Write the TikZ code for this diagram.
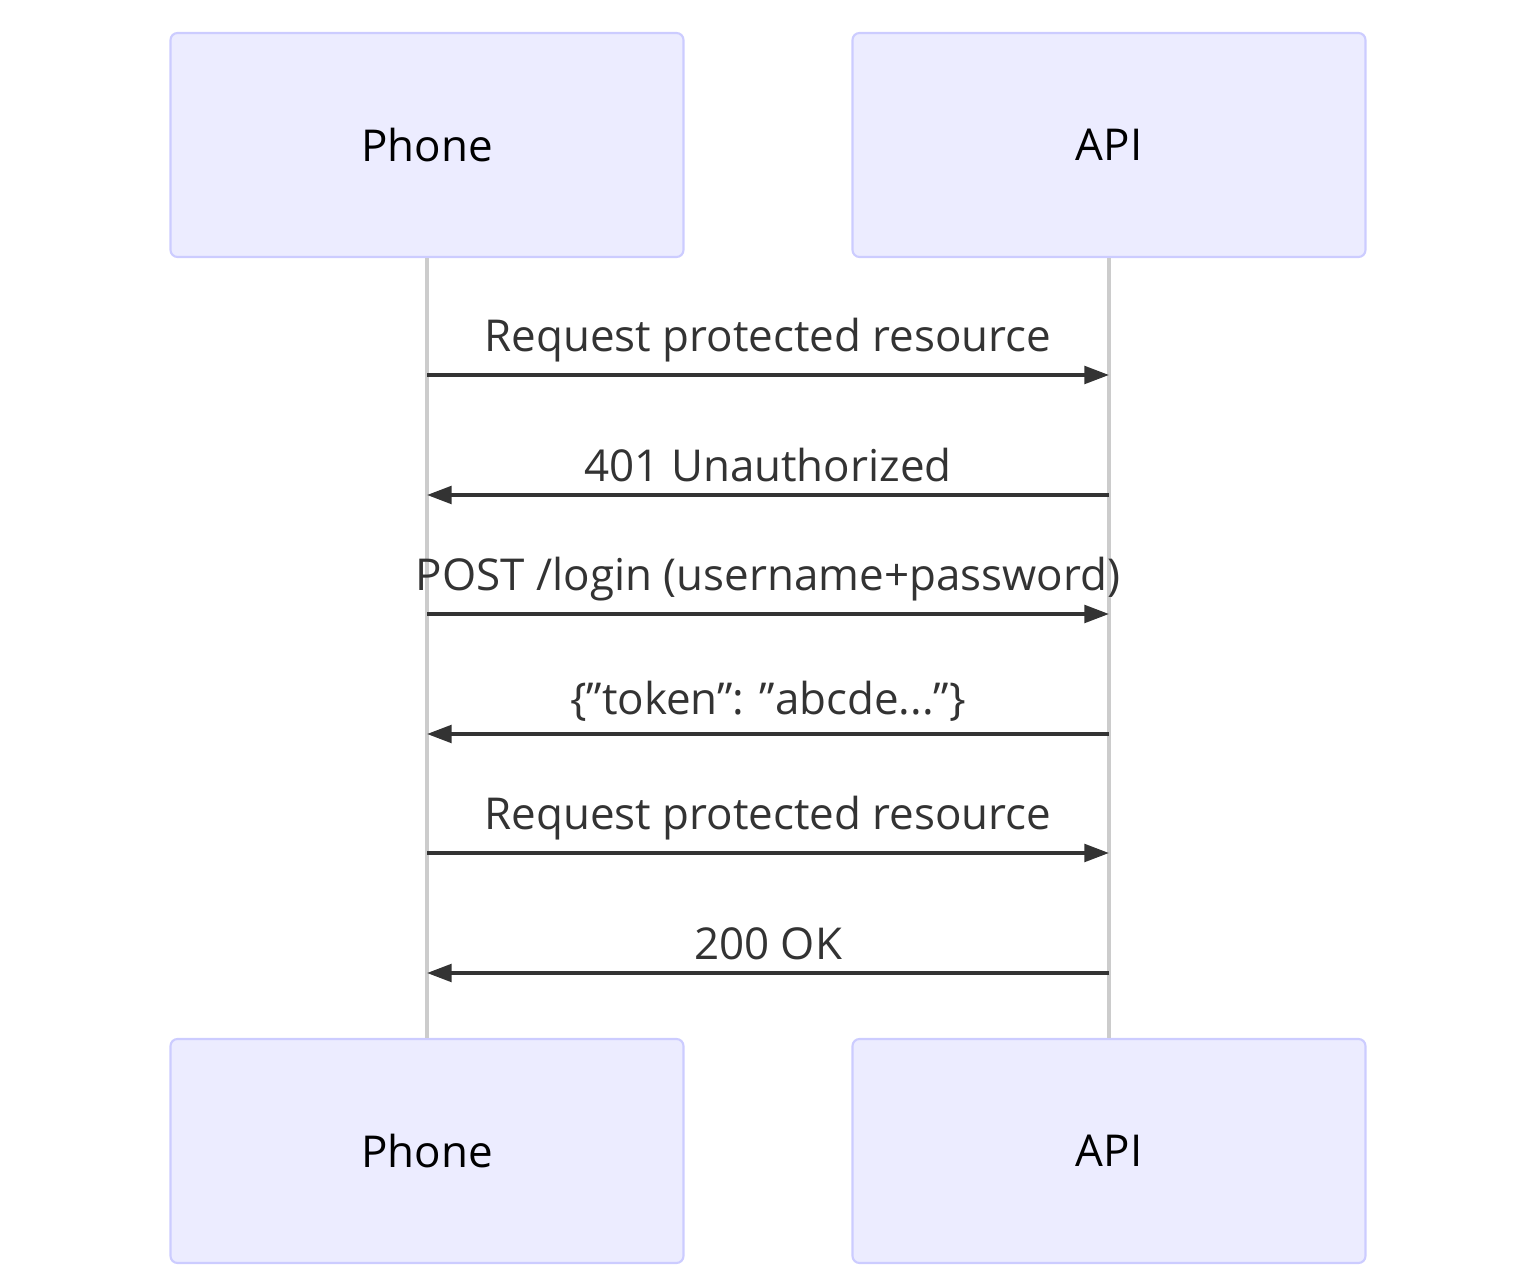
\documentclass[tikz,border=0pt]{standalone}
\usepackage{fontspec}
\setmainfont{Open Sans}[Ligatures=Common]
\usetikzlibrary{arrows.meta}
\definecolor{actorfill}{HTML}{ECECFF}
\definecolor{actorline}{HTML}{CCCCFF}
\definecolor{msgline}{HTML}{333333}
\begin{document}
\begin{tikzpicture}[x=0.02cm, y=-0.02cm,
    actor/.style={draw=actorline, fill=actorfill, line width=1.2pt, rounded corners=4pt,
      minimum width=513*0.02cm, minimum height=224*0.02cm, font=\fontsize{25}{30}\selectfont},
    lifeline/.style={draw=black!20, line width=2pt},
    msg/.style={draw=msgline, line width=2pt, -{Triangle[length=14pt,width=10pt]}},
    msgtext/.style={font=\fontsize{25}{30}\selectfont, text=msgline, above=3pt}]
    \useasboundingbox (0,0) rectangle (1536,1266);
    \node[actor] at (427, 145) (phoneT) {Phone};
    \node[actor] at (1109, 145) (apiT) {API};
    \node[actor] at (427, 1151) (phoneB) {Phone};
    \node[actor] at (1109, 1151) (apiB) {API};

    \draw[lifeline] (phoneT) -- (phoneB);
    \draw[lifeline] (apiT) -- (apiB);

    \foreach \y in {375, 495, 614, 734, 853, 973} {
      \coordinate (p\y) at (phoneT.south |- 0,\y);
      \coordinate (a\y) at (apiT.south |- 0,\y);
    }

    \draw[msg] (p375) -- (a375) node[midway, msgtext] {Request protected resource};
    \draw[msg] (a495) -- (p495) node[midway, msgtext] {401 Unauthorized};
    \draw[msg] (p614) -- (a614) node[midway, msgtext] {POST /login (username+password)};
    \draw[msg] (a734) -- (p734) node[midway, msgtext] {\{"token": "abcde..."\}};
    \draw[msg] (p853) -- (a853) node[midway, msgtext] {Request protected resource};
    \draw[msg] (a973) -- (p973) node[midway, msgtext] {200 OK};
\end{tikzpicture}
\end{document}
